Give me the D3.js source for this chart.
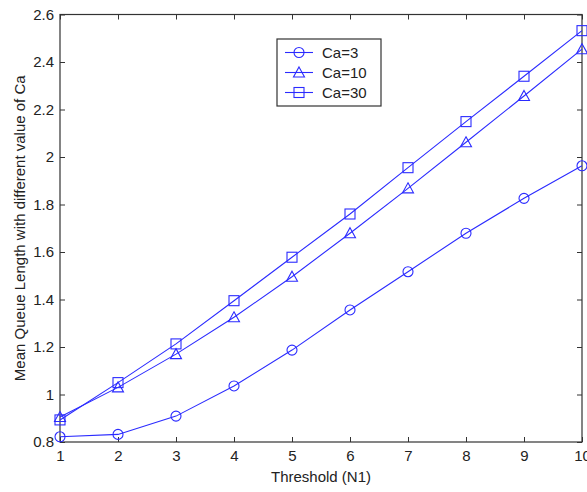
<!DOCTYPE html>
<html>
<head>
<meta charset="utf-8">
<script src="https://cdn.jsdelivr.net/npm/d3@7"></script>
<style>
  body { margin: 0; background: #fff; }
  svg { display: block; font-family: "Liberation Sans", Arial, sans-serif; }
</style>
</head>
<body>
<div id="chart"></div>
<script>
// data
var thresholds = [1, 2, 3, 4, 5, 6, 7, 8, 9, 10];
var ca3  = [0.822, 0.832, 0.909, 1.036, 1.187, 1.356, 1.517, 1.679, 1.826, 1.963];
var ca10 = [0.905, 1.03, 1.17, 1.325, 1.496, 1.679, 1.868, 2.062, 2.257, 2.454];
var ca30 = [0.893, 1.05, 1.213, 1.395, 1.578, 1.76, 1.955, 2.149, 2.34, 2.532];
var seriesNames = ["Ca=3", "Ca=10", "Ca=30"];
var markers = ["circle", "triangle", "square"];
var yTicks = [0.8, 1, 1.2, 1.4, 1.6, 1.8, 2, 2.2, 2.4, 2.6];
var xTicks = [1, 2, 3, 4, 5, 6, 7, 8, 9, 10];

var W = 587, H = 492;
var margin = {top: 14.5, right: 5, bottom: 50, left: 60};
var width = W - margin.left - margin.right,
    height = H - margin.top - margin.bottom;

var lineColor = "#2b2bff";

var svg = d3.select("#chart")
  .append("svg")
    .attr("width", W)
    .attr("height", H)
  .append("g")
    .attr("transform", "translate(" + margin.left + "," + margin.top + ")");

var x = d3.scaleLinear().domain([1, 10]).range([0, width]);
var y = d3.scaleLinear().domain([0.8, 2.6]).range([height, 0]);

var series = [ca3, ca10, ca30].map(function(vals, i) {
  return {name: seriesNames[i], marker: markers[i],
          points: vals.map(function(v, j) { return {x: thresholds[j], y: v}; })};
});

// axes (ticks pointing inward, box style)
function styleAxis(g) {
  g.select(".domain").remove();
  g.selectAll("line").attr("stroke", "#333");
  g.selectAll("text").attr("fill", "#222").style("font-size", "15px");
}

svg.append("g")
  .attr("transform", "translate(0," + height + ")")
  .call(d3.axisBottom(x).tickValues(xTicks).tickSize(-5).tickPadding(8).tickFormat(d3.format("d")))
  .call(styleAxis);
svg.append("g")
  .call(d3.axisTop(x).tickValues(xTicks).tickSize(-5).tickFormat(""))
  .call(styleAxis);
svg.append("g")
  .call(d3.axisLeft(y).tickValues(yTicks).tickSize(-5).tickPadding(6).tickFormat(function(d) { return String(d); }))
  .call(styleAxis);
svg.append("g")
  .attr("transform", "translate(" + width + ",0)")
  .call(d3.axisRight(y).tickValues(yTicks).tickSize(-5).tickFormat(""))
  .call(styleAxis);

svg.append("rect")
  .attr("width", width)
  .attr("height", height)
  .attr("fill", "none")
  .attr("stroke", "#333")
  .attr("stroke-width", 1.2);

// lines
var line = d3.line()
  .x(function(d) { return x(d.x); })
  .y(function(d) { return y(d.y); });

function drawMarker(g, type) {
  if (type === "circle") {
    g.append("circle").attr("r", 5);
  } else if (type === "square") {
    g.append("rect").attr("x", -5).attr("y", -5).attr("width", 10).attr("height", 10);
  } else {
    g.append("path").attr("d", "M0,-5.5L5.5,4.5L-5.5,4.5Z");
  }
  g.selectAll("*").attr("fill", "none").attr("stroke", lineColor).attr("stroke-width", 1.1);
}

series.forEach(function(s) {
  svg.append("path")
    .datum(s.points)
    .attr("fill", "none")
    .attr("stroke", lineColor)
    .attr("stroke-width", 1.1)
    .attr("d", line);

  svg.selectAll(null)
    .data(s.points)
    .enter()
    .append("g")
      .attr("transform", function(d) { return "translate(" + x(d.x) + "," + y(d.y) + ")"; })
      .each(function() { drawMarker(d3.select(this), s.marker); });
});

// legend
var legend = svg.append("g")
  .attr("transform", "translate(" + (277 - margin.left) + "," + (39 - margin.top) + ")");
legend.append("rect")
  .attr("width", 104)
  .attr("height", 67)
  .attr("fill", "#fff")
  .attr("stroke", "#333")
  .attr("stroke-width", 1.2);

series.forEach(function(s, i) {
  var row = legend.append("g").attr("transform", "translate(0," + (13.5 + i * 20) + ")");
  row.append("line")
    .attr("x1", 8).attr("x2", 36)
    .attr("stroke", lineColor).attr("stroke-width", 1.1);
  drawMarker(row.append("g").attr("transform", "translate(22,0)"), s.marker);
  row.append("text")
    .attr("x", 45)
    .attr("y", 5.5)
    .attr("fill", "#222")
    .style("font-size", "15px")
    .text(s.name);
});

// axis labels
svg.append("text")
  .attr("x", width / 2)
  .attr("y", height + 40)
  .attr("text-anchor", "middle")
  .attr("fill", "#222")
  .style("font-size", "15px")
  .text("Threshold (N1)");

svg.append("text")
  .attr("transform", "translate(" + (25 - margin.left) + "," + (height / 2) + ")rotate(-90)")
  .attr("text-anchor", "middle")
  .attr("fill", "#222")
  .style("font-size", "15px")
  .text("Mean Queue Length with different value of Ca");
</script>
</body>
</html>
